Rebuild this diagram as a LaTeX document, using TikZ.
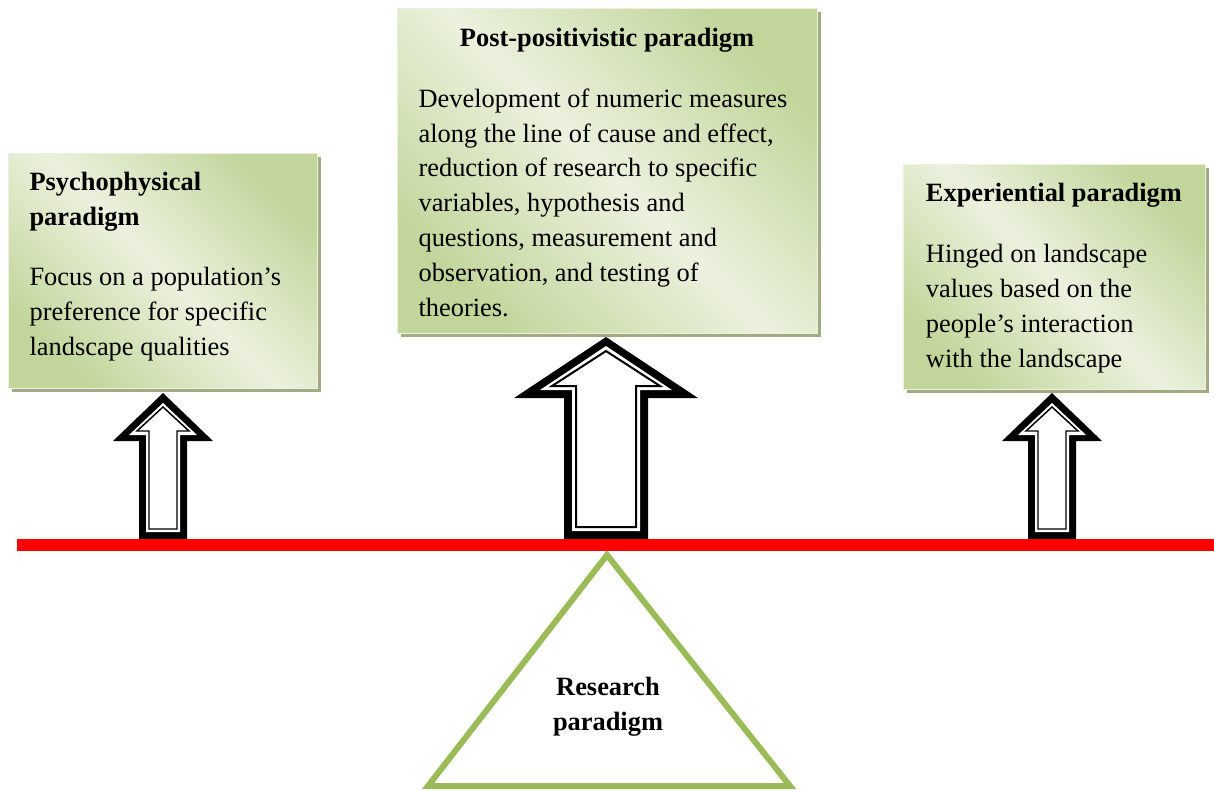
\documentclass[tikz,border=0pt]{standalone}
\usepackage{fontspec}
\setmainfont{Liberation Serif}
\usetikzlibrary{fit}
\definecolor{boxdark}{HTML}{C2D69B}
\definecolor{boxlight}{HTML}{EBF1DE}
\definecolor{shadowc}{HTML}{A2AA84}
\definecolor{trigreen}{HTML}{9BBB59}
\newcommand\bodyfont{\fontsize{19.8}{26.1}\selectfont}
\tikzset{
  paperbox/.style={inner sep=0pt, draw=boxlight, line width=0.6pt,
    top color=boxdark, bottom color=boxdark, middle color=boxlight, shading angle=-45},
  boxshadow/.style={fill=shadowc},
  txt/.style={inner sep=0pt, align=left, anchor=base west, font=\bodyfont},
  ttl/.style={txt, font=\bodyfont\bfseries},
  outerarrow/.style={fill=black},
  gaparrow/.style={fill=white},
  innerarrow/.style={draw=black, line join=miter},
  beam/.style={draw=red, line width=9pt},
  fulcrum/.style={draw=trigreen, line width=4.5pt, line join=miter},
}
\newcommand\smallupar[2]{%
  \begin{scope}[shift={(#1,0)}]
    \fill[outerarrow] (0,393) -- (50,441) -- (24,441) -- (24,539) -- (-24,539) -- (-24,441) -- (-50,441) -- cycle;
    \fill[gaparrow] (0,403) -- (34,435) -- (17,435) -- (17,532) -- (-17,532) -- (-17,435) -- (-34,435) -- cycle;
    \draw[innerarrow, line width=1.1pt] (0,407) -- (26,431) -- (14,431) -- (14,529) -- (-14,529) -- (-14,431) -- (-26,431) -- cycle;
    \coordinate (#2) at (0,539);
  \end{scope}}
\begin{document}
\begin{tikzpicture}[x=0.75pt,y=-0.75pt]
\useasboundingbox (0,0) rectangle (1214,790);

% shadows
\fill[boxshadow] (12,157) rectangle (321,392);
\fill[boxshadow] (401,12) rectangle (821,337);
\fill[boxshadow] (907,168) rectangle (1209,393);

% boxes
\node[paperbox, fit={(8,153) (317,388)}] (lbox) {};
\node[paperbox, fit={(397,8) (817,333)}] (cbox) {};
\node[paperbox, fit={(903,164) (1205,389)}] (rbox) {};

% texts (anchor = baseline of the last line)
\node[ttl] (lttl) at (29.3,225) {Psychophysical\\paradigm};
\node[txt] (ltxt) at (29.3,355) {Focus on a population’s\\preference for specific\\landscape qualities};
\node[ttl, anchor=base] (cttl) at (607,46) {Post-positivistic paradigm};
\node[txt] (ctxt) at (418.3,316) {Development of numeric measures\\along the line of cause and effect,\\reduction of research to specific\\variables, hypothesis and\\questions, measurement and\\observation, and testing of\\theories.};
\node[ttl] (rttl) at (925.7,201.7) {Experiential paradigm};
\node[txt] (rtxt) at (925.7,367.3) {Hinged on landscape\\values based on the\\people’s interaction\\with the landscape};

% arrows
\smallupar{163}{la}
\smallupar{1052}{ra}
\begin{scope}[shift={(606,0)}]
  \fill[outerarrow] (0,337) -- (92,398) -- (42,398) -- (42,539) -- (-42,539) -- (-42,398) -- (-92,398) -- cycle;
  \fill[gaparrow] (0,346) -- (66,390) -- (34,390) -- (34,531) -- (-34,531) -- (-34,390) -- (-66,390) -- cycle;
  \draw[innerarrow, line width=1.5pt] (0,351) -- (54,386) -- (30,386) -- (30,527) -- (-30,527) -- (-30,386) -- (-54,386) -- cycle;
\end{scope}

% fulcrum
\draw[fulcrum] (607,555) -- (790,786) -- (428,786) -- cycle;
\node[ttl, align=center, anchor=base] (rp) at (608,730) {Research\\paradigm};

% beam
\coordinate (bl) at (17,545);
\coordinate (br) at (1214,545);
\draw[beam] (bl) -- (br);
\end{tikzpicture}
\end{document}
